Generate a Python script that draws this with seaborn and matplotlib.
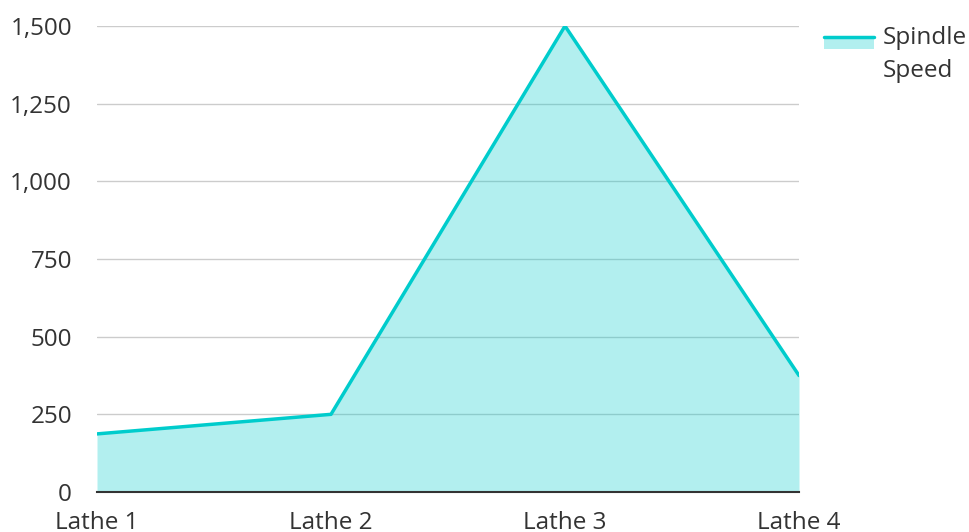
import matplotlib
matplotlib.use("Agg")
import matplotlib.pyplot as plt
import seaborn as sns
import pandas as pd
from matplotlib.patches import Rectangle
from matplotlib.lines import Line2D
from matplotlib.ticker import FuncFormatter

categories = ["Lathe 1", "Lathe 2", "Lathe 3", "Lathe 4"]
spindle_speed = [187, 250, 1500, 375]
series_name = "Spindle\nSpeed"
y_ticks = [0, 250, 500, 750, 1000, 1250, 1500]

LINE = "#00CCCC"
TEXT = "#333333"
FS = 17.5

sns.set_theme(style="white")
plt.rcParams['font.family'] = ['Open Sans', 'DejaVu Sans']

df = pd.DataFrame({"x": range(len(categories)), "Machine": categories, "Speed": spindle_speed})

W, H = 970, 532
fig = plt.figure(figsize=(W / 100, H / 100), dpi=100)
ax = fig.add_axes([97 / W, 1 - 492 / H, (799 - 97) / W, (492 - 26) / H])

ax.fill_between(df["x"], df["Speed"], 0, color=LINE, alpha=0.3, linewidth=0, zorder=1)
sns.lineplot(data=df, x="x", y="Speed", color=LINE, linewidth=2.5, ax=ax, zorder=2)

ax.set_xlim(0, len(categories) - 1)
ax.set_ylim(0, 1500)
ax.set_xticks(range(len(categories)))
ax.set_xticklabels(categories)
ax.set_yticks(y_ticks)
ax.yaxis.set_major_formatter(FuncFormatter(lambda v, p: f"{int(v):,}"))
ax.set_xlabel("")
ax.set_ylabel("")

ax.set_axisbelow(True)
ax.yaxis.grid(True, color="#cccccc", linewidth=1)
ax.xaxis.grid(False)
for s in ["top", "right", "left"]:
    ax.spines[s].set_visible(False)
ax.spines["bottom"].set_color(TEXT)
ax.spines["bottom"].set_linewidth(1.5)
ax.spines["bottom"].set_zorder(3)
ax.tick_params(axis="x", length=0, pad=14, labelsize=FS, labelcolor=TEXT)
ax.tick_params(axis="y", length=0, pad=18, labelsize=FS, labelcolor=TEXT)

# legend (manual layout in figure pixel coordinates)
fig.add_artist(Rectangle((824 / W, 1 - 49 / H), 50 / W, 11 / H, transform=fig.transFigure,
                         facecolor=LINE, alpha=0.3, edgecolor="none"))
fig.add_artist(Line2D([824 / W, 874 / W], [1 - 37 / H] * 2, transform=fig.transFigure,
                      color=LINE, linewidth=2.5))
fig.text(883 / W, 1 - 26 / H, series_name, fontsize=FS, color=TEXT, va="top", ha="left",
         linespacing=1.52)

fig.savefig("out.png", dpi=100)
